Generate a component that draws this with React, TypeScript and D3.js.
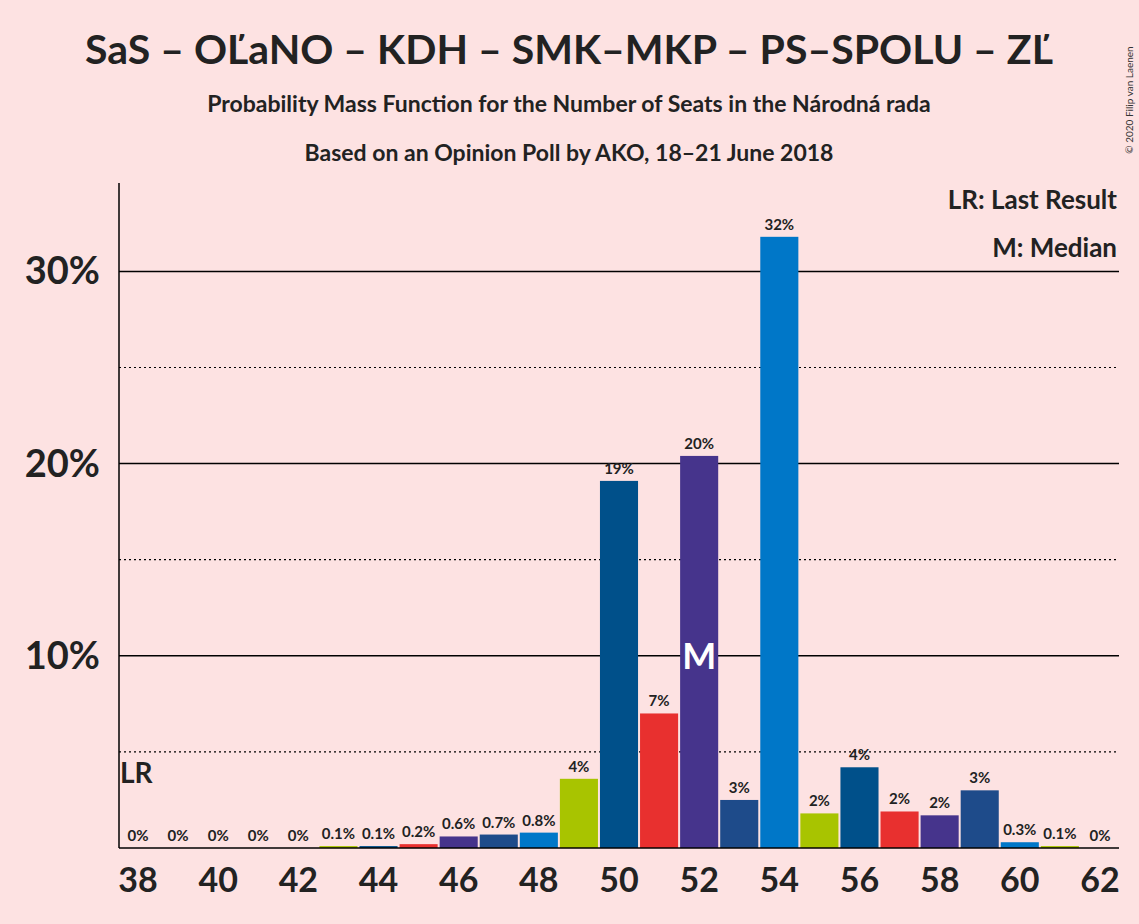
import React, { useEffect, useRef } from 'react';
import * as d3 from 'd3';

const seats = d3.range(38, 63);
const probs = [0, 0, 0, 0, 0, 0.1, 0.1, 0.2, 0.6, 0.7, 0.8, 3.6, 19.1, 7.0, 20.4, 2.5, 31.8, 1.8, 4.2, 1.9, 1.7, 3.0, 0.3, 0.1, 0];
const palette = ['#A8C400', '#00508A', '#E8302F', '#46348C', '#1E4B8A', '#0077C8'];
const xTicks = d3.range(38, 63, 2);
const yTicks = [10, 20, 30];
const minorTicks = [5, 15, 25];
const lastResult = 38;
const median = 52;

const fmt = (v: number) => (v === 0 ? '0%' : v < 1 ? `${v.toFixed(1)}%` : `${Math.round(v)}%`);

const App: React.FC = () => {
  const ref = useRef<SVGSVGElement | null>(null);

  useEffect(() => {
    if (!ref.current) return;
    const W = 1139, H = 924;
    const svg = d3.select(ref.current);
    svg.selectAll('*').remove();
    svg.append('rect').attr('width', W).attr('height', H).attr('fill', '#FDE2E2');

    const x = d3.scaleBand<number>().domain(seats).range([119, 1119]).paddingInner(0.05).paddingOuter(0);
    const y = d3.scaleLinear().domain([0, 34.6]).range([848, 183]);
    const font = 'Lato, sans-serif';

    svg.append('text').attr('x', 569).attr('y', 64).attr('text-anchor', 'middle')
      .attr('font-family', font).attr('font-weight', 'bold').attr('font-size', 41).attr('fill', '#222')
      .text('SaS – OĽaNO – KDH – SMK–MKP – PS–SPOLU – ZĽ');
    svg.append('text').attr('x', 569).attr('y', 112).attr('text-anchor', 'middle')
      .attr('font-family', font).attr('font-weight', 'bold').attr('font-size', 23).attr('fill', '#222')
      .text('Probability Mass Function for the Number of Seats in the Národná rada');
    svg.append('text').attr('x', 569).attr('y', 161).attr('text-anchor', 'middle')
      .attr('font-family', font).attr('font-weight', 'bold').attr('font-size', 23).attr('fill', '#222')
      .text('Based on an Opinion Poll by AKO, 18–21 June 2018');
    svg.append('text').attr('transform', 'translate(1133,100) rotate(-90)').attr('text-anchor', 'middle')
      .attr('font-family', font).attr('font-size', 10).attr('fill', '#333').text('© 2020 Filip van Laenen');

    yTicks.forEach(t => {
      svg.append('line').attr('x1', 119).attr('x2', 1119).attr('y1', y(t)).attr('y2', y(t))
        .attr('stroke', '#000').attr('stroke-width', 1.5);
      svg.append('text').attr('x', 100).attr('y', y(t) + 13).attr('text-anchor', 'end')
        .attr('font-family', font).attr('font-weight', 'bold').attr('font-size', 38).attr('fill', '#222')
        .text(`${t}%`);
    });
    minorTicks.forEach(t => {
      svg.append('line').attr('x1', 119).attr('x2', 1119).attr('y1', y(t)).attr('y2', y(t))
        .attr('stroke', '#000').attr('stroke-width', 1.2).attr('stroke-dasharray', '2,3');
    });

    const bw = x.bandwidth();
    seats.forEach((s, i) => {
      const v = probs[i];
      if (v > 0) {
        svg.append('rect').attr('x', x(s)!).attr('y', y(v)).attr('width', bw)
          .attr('height', y(0) - y(v)).attr('fill', palette[(s - 37) % 6]);
      }
      svg.append('text').attr('x', x(s)! + bw / 2).attr('y', y(v) - 7).attr('text-anchor', 'middle')
        .attr('font-family', font).attr('font-weight', 'bold').attr('font-size', 15).attr('fill', '#222')
        .text(fmt(v));
    });

    const mi = seats.indexOf(median);
    svg.append('text').attr('x', x(median)! + bw / 2).attr('y', y(10) + 13).attr('text-anchor', 'middle')
      .attr('font-family', font).attr('font-weight', 'bold').attr('font-size', 36).attr('fill', '#fff')
      .text(probs[mi] > 0 ? 'M' : '');

    svg.append('text').attr('x', x(lastResult)! + 1).attr('y', 783).attr('text-anchor', 'start')
      .attr('font-family', font).attr('font-weight', 'bold').attr('font-size', 28).attr('fill', '#222').text('LR');

    svg.append('line').attr('x1', 119).attr('x2', 119).attr('y1', 183).attr('y2', 848).attr('stroke', '#000').attr('stroke-width', 1.5);
    svg.append('line').attr('x1', 119).attr('x2', 1119).attr('y1', 848).attr('y2', 848).attr('stroke', '#000').attr('stroke-width', 1.5);

    xTicks.forEach(t => {
      svg.append('text').attr('x', x(t)! + bw / 2).attr('y', 892).attr('text-anchor', 'middle')
        .attr('font-family', font).attr('font-weight', 'bold').attr('font-size', 34).attr('fill', '#222').text(`${t}`);
    });

    svg.append('text').attr('x', 1117).attr('y', 209).attr('text-anchor', 'end')
      .attr('font-family', font).attr('font-weight', 'bold').attr('font-size', 26).attr('fill', '#222').text('LR: Last Result');
    svg.append('text').attr('x', 1117).attr('y', 257).attr('text-anchor', 'end')
      .attr('font-family', font).attr('font-weight', 'bold').attr('font-size', 26).attr('fill', '#222').text('M: Median');
  }, []);

  return <svg ref={ref} width={1139} height={924} style={{ position: 'absolute', left: 0, top: 0 }} />;
};

export default App;
